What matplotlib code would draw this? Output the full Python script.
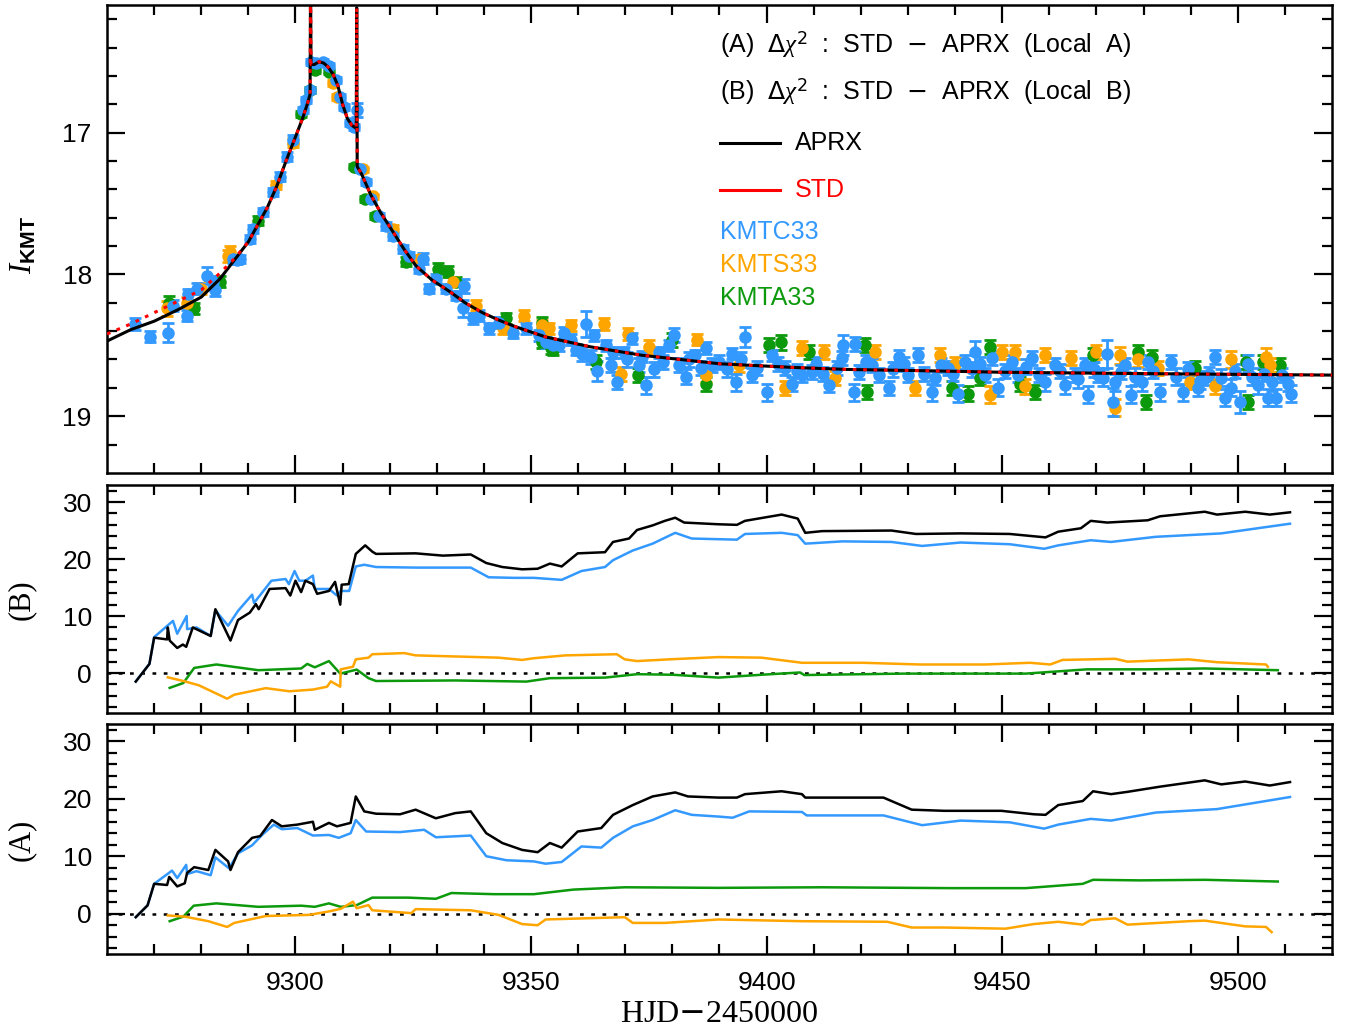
# Light curve of KMT-2021 event with cumulative delta-chi2 panels
import numpy as np
import matplotlib.pyplot as plt

# Colours of the three KMTNet sites
c_ctio = "#3399ff"
c_saao = "#ffa500"
c_sso = "#0c990c"

# ---- Model curves (HJD-2450000, I mag) ----
model_t = [9260, 9265, 9270, 9275, 9280, 9284, 9287, 9290, 9292, 9294, 9296, 9298,
           9300, 9301.5, 9302.5, 9303.1, 9303.2, 9303.3, 9304, 9305, 9306, 9307, 9308,
           9309, 9310, 9311, 9312, 9312.9, 9313.0, 9313.1, 9314, 9316, 9318, 9320.7,
           9323, 9325.6, 9329, 9332.7, 9336, 9339.7, 9343, 9346.8, 9353, 9362.5,
           9373.5, 9390, 9405, 9417, 9435, 9450, 9482, 9520]
aprx_mag = [18.47, 18.39, 18.33, 18.25, 18.16, 18.03, 17.90, 17.77, 17.65, 17.53, 17.38, 17.20,
            17.03, 16.90, 16.80, 16.73, 15.90, 16.52, 16.52, 16.50, 16.51, 16.54, 16.59,
            16.67, 16.80, 16.90, 16.95, 16.97, 16.12, 17.24, 17.29, 17.44, 17.56, 17.70,
            17.82, 17.94, 18.04, 18.12, 18.20, 18.27, 18.32, 18.37, 18.44, 18.51,
            18.57, 18.63, 18.655, 18.67, 18.68, 18.69, 18.70, 18.71]
std_mag = [18.42, 18.35, 18.27, 18.19, 18.11, 17.99, 17.89, 17.77, 17.65, 17.53, 17.38, 17.20,
           17.03, 16.90, 16.80, 16.73, 15.90, 16.52, 16.52, 16.50, 16.51, 16.54, 16.59,
           16.67, 16.80, 16.90, 16.95, 16.97, 16.12, 17.24, 17.29, 17.44, 17.56, 17.70,
           17.82, 17.94, 18.04, 18.12, 18.20, 18.27, 18.32, 18.37, 18.44, 18.51,
           18.57, 18.63, 18.655, 18.67, 18.68, 18.69, 18.70, 18.71]

# ---- Photometry ----
kmtc_t = [9266.0, 9269.2, 9272.9, 9274.1, 9276.9, 9277.2, 9279.1, 9281.2, 9282.4, 9282.9,
          9286.8, 9287.6, 9288.2, 9290.3, 9291.0, 9293.1, 9295.2, 9296.7, 9298.1, 9299.5,
          9301.6, 9302.3, 9303.0, 9303.4, 9304.4, 9305.8, 9307.2, 9308.7, 9309.4, 9310.4,
          9311.5, 9312.5, 9313.0, 9313.6, 9315.0, 9316.1, 9317.8, 9319.3, 9320.7, 9322.8,
          9324.2, 9326.3, 9327.0, 9328.4, 9329.8, 9332.0, 9334.1, 9335.8, 9335.5, 9337.6,
          9339.0, 9341.1, 9343.3, 9346.1, 9348.9, 9351.7, 9353.2, 9354.6,
          9357.0, 9358.4, 9361.6, 9360.9, 9363.4, 9364.1, 9365.9, 9366.9, 9368.3, 9369.7,
          9371.5, 9372.9, 9374.3, 9376.1, 9377.2, 9379.3, 9380.3, 9381.4, 9382.8, 9384.9,
          9387.1, 9388.5, 9392.7, 9393.4, 9395.5, 9396.9, 9400.1, 9401.2, 9404.0, 9405.4,
          9407.5, 9409.6, 9413.2, 9416.3, 9416.0, 9418.5, 9418.8, 9422.4, 9423.8, 9425.9,
          9428.0, 9430.1, 9432.2, 9435.1, 9435.8, 9438.6, 9440.7, 9442.1, 9444.2, 9446.4,
          9447.8, 9449.2, 9452.0, 9453.4, 9456.3, 9459.1, 9461.2, 9463.3, 9465.4, 9467.6,
          9468.3, 9470.4, 9472.2, 9473.6, 9473.9, 9476.0, 9477.4, 9479.6, 9481.0, 9483.4,
          9485.9, 9488.4, 9491.6, 9493.0, 9495.1, 9497.2, 9498.6, 9500.4, 9502.2, 9504.3,
          9506.4, 9508.2, 9510.6, 9511.3,
          9356.0, 9359.5, 9362.8, 9367.5, 9370.4, 9373.6, 9378.0, 9383.5, 9386.0, 9390.0,
          9391.5, 9394.6, 9398.0, 9402.5, 9406.4, 9410.5, 9412.0, 9415.0, 9419.6, 9421.0,
          9426.8, 9429.2, 9433.5, 9437.0, 9439.5, 9443.5, 9445.2, 9450.5, 9455.0, 9457.8,
          9462.2, 9466.0, 9469.5, 9471.5, 9475.2, 9478.3, 9482.0, 9486.8, 9489.5, 9492.0,
          9494.0, 9496.5, 9499.5, 9503.0, 9505.5, 9507.3, 9509.5]
kmtc_mag = [18.35, 18.44, 18.41, 18.22, 18.29, 18.14, 18.10, 18.01, 18.05, 18.11,
            17.89, 17.90, 17.89, 17.75, 17.68, 17.56, 17.42, 17.31, 17.17, 17.05,
            16.84, 16.77, 16.70, 16.50, 16.51, 16.50, 16.53, 16.63, 16.75, 16.82,
            16.93, 16.96, 16.84, 17.26, 17.35, 17.47, 17.59, 17.66, 17.73, 17.82,
            17.87, 17.96, 17.89, 18.10, 18.03, 18.10, 18.15, 18.08, 18.24, 18.31,
            18.29, 18.38, 18.34, 18.41, 18.38, 18.43, 18.48, 18.50,
            18.41, 18.46, 18.35, 18.56, 18.43, 18.68, 18.50, 18.64, 18.76, 18.55,
            18.45, 18.64, 18.78, 18.67, 18.55, 18.50, 18.43, 18.64, 18.72, 18.57,
            18.52, 18.64, 18.56, 18.76, 18.44, 18.71, 18.83, 18.57, 18.66, 18.77,
            18.71, 18.69, 18.78, 18.50, 18.59, 18.83, 18.49, 18.64, 18.71, 18.80,
            18.58, 18.71, 18.57, 18.83, 18.73, 18.66, 18.84, 18.62, 18.55, 18.71,
            18.59, 18.80, 18.62, 18.71, 18.59, 18.76, 18.64, 18.78, 18.71, 18.64,
            18.85, 18.71, 18.56, 18.90, 18.76, 18.64, 18.85, 18.76, 18.62, 18.83,
            18.62, 18.83, 18.80, 18.73, 18.58, 18.87, 18.80, 18.90, 18.63, 18.78,
            18.87, 18.87, 18.77, 18.84,
            18.50, 18.53, 18.58, 18.55, 18.60, 18.58, 18.62, 18.60, 18.66, 18.62,
            18.67, 18.60, 18.66, 18.63, 18.68, 18.63, 18.70, 18.66, 18.69, 18.62,
            18.67, 18.63, 18.70, 18.64, 18.70, 18.67, 18.63, 18.68, 18.65, 18.71,
            18.68, 18.74, 18.67, 18.73, 18.69, 18.72, 18.68, 18.72, 18.67, 18.75,
            18.70, 18.73, 18.68, 18.72, 18.70, 18.76, 18.71]
kmtc_err = [0.04, 0.04, 0.07, 0.04, 0.04, 0.04, 0.04, 0.06, 0.04, 0.04,
            0.03, 0.03, 0.03, 0.03, 0.03, 0.03, 0.03, 0.03, 0.03, 0.03,
            0.02, 0.02, 0.02, 0.02, 0.02, 0.02, 0.02, 0.02, 0.02, 0.02,
            0.02, 0.02, 0.05, 0.02, 0.02, 0.02, 0.02, 0.03, 0.03, 0.03,
            0.03, 0.03, 0.04, 0.03, 0.03, 0.03, 0.03, 0.05, 0.06, 0.04,
            0.04, 0.04, 0.04, 0.04, 0.04, 0.04, 0.04, 0.04,
            0.04, 0.04, 0.09, 0.05, 0.04, 0.07, 0.04, 0.05, 0.05, 0.04,
            0.04, 0.05, 0.06, 0.05, 0.04, 0.04, 0.05, 0.05, 0.05, 0.04,
            0.04, 0.05, 0.04, 0.06, 0.07, 0.05, 0.06, 0.04, 0.05, 0.05,
            0.05, 0.05, 0.05, 0.07, 0.05, 0.06, 0.05, 0.05, 0.05, 0.05,
            0.05, 0.05, 0.05, 0.06, 0.05, 0.05, 0.06, 0.05, 0.08, 0.05,
            0.05, 0.06, 0.05, 0.05, 0.05, 0.06, 0.05, 0.06, 0.05, 0.05,
            0.06, 0.05, 0.10, 0.10, 0.06, 0.05, 0.06, 0.06, 0.05, 0.06,
            0.05, 0.06, 0.06, 0.05, 0.05, 0.06, 0.06, 0.08, 0.06, 0.06,
            0.06, 0.06, 0.05, 0.06,
            0.04, 0.04, 0.05, 0.04, 0.05, 0.04, 0.05, 0.05, 0.05, 0.05,
            0.05, 0.05, 0.05, 0.05, 0.05, 0.05, 0.05, 0.05, 0.05, 0.05,
            0.05, 0.05, 0.05, 0.05, 0.05, 0.05, 0.05, 0.05, 0.05, 0.05,
            0.05, 0.06, 0.05, 0.06, 0.05, 0.06, 0.05, 0.06, 0.05, 0.06,
            0.05, 0.06, 0.05, 0.06, 0.05, 0.06, 0.05]

kmts_t = [9272.8, 9276.9, 9280.0, 9285.7, 9286.0, 9295.9, 9299.5, 9307.9, 9308.9,
          9314.3, 9316.4, 9320.7, 9326.3, 9333.4, 9338.3, 9344.0, 9348.6, 9352.4,
          9353.9, 9358.4, 9365.5, 9369.0, 9370.5, 9375.0, 9385.3, 9387.1, 9394.1,
          9404.0, 9407.5, 9412.1, 9414.6, 9423.1, 9431.5, 9436.8, 9440.0, 9447.4,
          9449.9, 9452.7, 9454.8, 9459.1, 9464.7, 9470.0, 9473.9, 9475.0, 9478.9,
          9483.1, 9489.8, 9495.1, 9498.6, 9506.0, 9506.8]
kmts_mag = [18.24, 18.20, 18.10, 17.87, 17.84, 17.37, 17.07, 16.65, 16.75,
            17.26, 17.45, 17.68, 17.89, 18.05, 18.22, 18.38, 18.29, 18.36,
            18.38, 18.36, 18.35, 18.70, 18.42, 18.51, 18.46, 18.71, 18.64,
            18.80, 18.52, 18.55, 18.73, 18.55, 18.80, 18.57, 18.63, 18.85,
            18.55, 18.55, 18.79, 18.57, 18.59, 18.55, 18.94, 18.57, 18.60,
            18.66, 18.76, 18.79, 18.60, 18.58, 18.64]
kmts_err = [0.05, 0.04, 0.04, 0.04, 0.04, 0.03, 0.03, 0.02, 0.02,
            0.02, 0.02, 0.03, 0.03, 0.03, 0.04, 0.04, 0.04, 0.04,
            0.04, 0.04, 0.04, 0.05, 0.04, 0.05, 0.04, 0.05, 0.05,
            0.05, 0.05, 0.05, 0.05, 0.05, 0.05, 0.05, 0.05, 0.06,
            0.05, 0.05, 0.05, 0.05, 0.05, 0.05, 0.06, 0.06, 0.05,
            0.05, 0.05, 0.05, 0.06, 0.06, 0.05]

kmta_t = [9273.2, 9278.5, 9283.9, 9292.0, 9301.2, 9303.0, 9304.1, 9307.2,
          9312.5, 9314.7, 9316.8, 9323.5, 9330.2, 9332.3, 9334.1, 9344.7, 9352.4, 9354.2,
          9352.4, 9354.6, 9363.8, 9372.6, 9380.0, 9387.1, 9400.5, 9403.0,
          9408.9, 9420.9, 9421.3, 9439.3, 9442.8, 9445.3, 9447.4, 9453.8, 9457.0,
          9469.3, 9478.9, 9481.7, 9480.6, 9490.9, 9501.8, 9502.2, 9505.3, 9508.9]
kmta_mag = [18.20, 18.24, 18.05, 17.62, 16.87, 16.70, 16.56, 16.57,
            17.24, 17.47, 17.59, 17.91, 17.96, 17.98, 18.05, 18.31, 18.34, 18.52,
            18.48, 18.53, 18.62, 18.71, 18.46, 18.77, 18.50, 18.48,
            18.55, 18.50, 18.83, 18.80, 18.84, 18.73, 18.51, 18.77, 18.83,
            18.57, 18.55, 18.58, 18.90, 18.66, 18.62, 18.90, 18.62, 18.64]
kmta_err = [0.05, 0.04, 0.04, 0.03, 0.02, 0.02, 0.02, 0.02,
            0.02, 0.02, 0.02, 0.03, 0.04, 0.04, 0.03, 0.04, 0.04, 0.04,
            0.04, 0.04, 0.05, 0.05, 0.05, 0.05, 0.05, 0.05,
            0.05, 0.05, 0.05, 0.05, 0.05, 0.05, 0.05, 0.05, 0.05,
            0.05, 0.05, 0.05, 0.05, 0.05, 0.05, 0.05, 0.05, 0.05]

# ---- Cumulative delta chi2, local B ----
b_black_t = [9266.1, 9269.0, 9270.0, 9272.75, 9272.9, 9273.3, 9274.9, 9276.1, 9276.8,
             9278.2, 9282.0, 9283.0, 9286.2, 9287.8, 9290.3, 9291.6, 9292.2, 9294.5,
             9297.9, 9298.9, 9300.0, 9301.2, 9302.1, 9303.7, 9304.6, 9307.1, 9308.4,
             9309.5, 9309.8, 9311.3, 9312.8, 9314.8, 9316.3, 9317.1, 9325.5, 9331.3,
             9337.2, 9340.5, 9343.9, 9348.1, 9351.4, 9354.0, 9356.5, 9359.9, 9365.7,
             9367.4, 9370.8, 9372.5, 9375.8, 9378.4, 9380.6, 9382.5, 9389.8, 9393.7,
             9395.4, 9403.2, 9406.6, 9408.2, 9411.8, 9426.5, 9431.7, 9441.2, 9451.6,
             9459.2, 9461.9, 9466.7, 9468.8, 9472.3, 9480.9, 9483.5, 9493.0, 9495.6,
             9501.6, 9506.8, 9511.1]
b_black = [-1.5, 1.6, 6.2, 5.9, 8.0, 5.7, 4.4, 5.0, 4.6,
           8.0, 6.5, 11.2, 5.7, 9.3, 10.6, 12.1, 11.2, 14.75,
           14.9, 13.6, 16.2, 14.2, 16.2, 15.6, 13.9, 14.4, 16.0,
           12.0, 15.5, 15.6, 20.9, 22.4, 21.3, 20.9, 21.0, 20.6,
           20.8, 19.3, 18.6, 18.2, 18.3, 19.2, 18.7, 21.0, 21.2,
           23.0, 23.6, 25.1, 25.9, 26.7, 27.25, 26.4, 26.1, 26.0,
           26.7, 27.8, 27.1, 24.6, 24.9, 25.0, 24.4, 24.5, 24.4,
           23.8, 24.8, 25.4, 26.7, 26.4, 26.8, 27.5, 28.3, 27.8,
           28.3, 27.8, 28.2]
b_blue_t = [9266.1, 9269.0, 9270.0, 9274.0, 9274.9, 9276.9, 9277.0, 9279.0, 9282.0,
            9283.0, 9285.7, 9287.8, 9290.8, 9291.2, 9294.9, 9297.9, 9298.6, 9299.8,
            9300.8, 9302.1, 9303.7, 9304.1, 9307.1, 9308.8, 9309.6, 9311.4, 9312.8,
            9314.6, 9317.1, 9325.5, 9337.2, 9341.0, 9346.4, 9350.6, 9356.5, 9360.7,
            9365.7, 9367.4, 9371.6, 9375.8, 9380.6, 9384.1, 9393.7, 9395.4, 9403.2,
            9406.6, 9408.2, 9416.1, 9426.5, 9433.0, 9441.2, 9451.6, 9458.9, 9461.9,
            9468.8, 9473.1, 9482.6, 9496.5, 9504.2, 9511.1]
b_blue = [-1.46, 1.6, 6.3, 9.15, 6.9, 10.0, 7.7, 8.0, 6.5,
          11.0, 8.3, 10.9, 13.75, 12.3, 16.2, 16.5, 15.6, 17.9,
          16.2, 16.2, 17.1, 14.75, 14.75, 13.6, 14.4, 14.4, 18.7,
          19.0, 18.6, 18.5, 18.5, 16.8, 16.7, 16.7, 16.35, 17.9,
          18.6, 19.8, 21.5, 22.7, 24.6, 23.6, 23.4, 24.4, 24.6,
          24.2, 22.7, 23.1, 23.0, 22.3, 22.9, 22.6, 21.8, 22.4,
          23.3, 23.0, 23.9, 24.5, 25.4, 26.2]
b_orange_t = [9272.9, 9276.5, 9279.5, 9285.5, 9287.0, 9293.7, 9298.7, 9303.7, 9306.7,
              9307.5, 9309.5, 9309.6, 9312.2, 9312.8, 9315.5, 9316.3, 9323.1, 9325.5,
              9343.1, 9348.1, 9350.6, 9357.3, 9368.2, 9369.9, 9372.5, 9379.2, 9389.8,
              9398.9, 9407.5, 9420.5, 9432.6, 9446.4, 9455.9, 9460.2, 9462.8, 9468.8,
              9474.0, 9476.6, 9489.6, 9495.6, 9506.0, 9506.4]
b_orange = [-0.75, -1.46, -2.15, -4.5, -3.8, -2.65, -3.2, -2.9, -2.4,
            -1.46, -2.4, 0.65, 1.1, 2.4, 2.7, 3.3, 3.5, 3.1,
            2.7, 2.3, 2.6, 3.1, 3.3, 2.4, 2.1, 2.4, 2.8,
            2.7, 1.8, 1.8, 1.5, 1.5, 1.8, 1.5, 2.3, 2.4,
            2.5, 2.0, 2.4, 1.9, 1.5, 1.1]
b_green_t = [9273.3, 9276.2, 9278.5, 9283.2, 9292.1, 9301.2, 9302.5, 9304.1, 9307.1,
             9309.5, 9313.0, 9315.5, 9317.1, 9333.9, 9349.0, 9354.0, 9365.7, 9372.5,
             9380.1, 9389.8, 9398.9, 9407.1, 9408.0, 9429.1, 9455.0, 9468.0, 9480.9,
             9493.0, 9508.5]
b_green = [-2.6, -1.75, 0.9, 1.5, 0.5, 0.8, 1.6, 1.0, 2.1,
           -0.1, 0.6, -0.9, -1.4, -1.3, -1.5, -0.9, -0.8, -0.2,
           -0.3, -0.8, -0.3, 0.1, -0.35, -0.1, -0.1, 0.65, 0.65,
           0.8, 0.5]

# ---- Cumulative delta chi2, local A ----
a_black_t = [9266.1, 9268.6, 9270.0, 9272.75, 9273.2, 9274.9, 9276.5, 9277.0, 9278.5,
             9281.5, 9283.0, 9285.7, 9286.2, 9287.8, 9290.8, 9292.5, 9295.0, 9297.1,
             9300.4, 9303.7, 9304.1, 9307.1, 9308.8, 9311.7, 9312.8, 9314.6, 9317.1,
             9322.2, 9325.5, 9329.8, 9333.9, 9337.2, 9340.5, 9343.9, 9348.1, 9351.4,
             9354.0, 9356.5, 9359.9, 9364.9, 9367.4, 9371.6, 9375.8, 9380.6, 9383.3,
             9389.8, 9393.7, 9395.4, 9403.2, 9407.5, 9408.2, 9424.8, 9430.8, 9437.7,
             9449.8, 9456.7, 9459.2, 9461.9, 9467.1, 9469.3, 9473.1, 9476.6, 9483.5,
             9493.0, 9496.5, 9501.6, 9506.8, 9511.1]
a_black = [-0.6, 1.45, 5.2, 5.0, 6.4, 4.75, 5.3, 7.1, 8.1,
           7.6, 11.1, 9.1, 7.6, 10.7, 13.2, 13.5, 16.3, 15.2,
           15.5, 16.0, 14.6, 15.8, 15.2, 15.8, 20.4, 17.8, 17.4,
           17.3, 18.1, 16.6, 17.5, 17.8, 14.0, 12.3, 11.1, 10.7,
           12.3, 11.5, 14.3, 14.9, 17.2, 18.9, 20.4, 21.1, 20.4,
           20.2, 20.2, 20.8, 21.3, 20.8, 20.2, 20.2, 18.1, 17.9,
           17.9, 17.3, 17.2, 18.9, 19.6, 21.3, 20.8, 21.2, 22.1,
           23.2, 22.5, 23.0, 22.3, 22.9]
a_blue_t = [9266.1, 9268.6, 9270.0, 9273.8, 9274.9, 9276.8, 9277.0, 9279.0, 9282.0,
            9283.0, 9285.9, 9287.8, 9290.8, 9292.9, 9295.4, 9297.1, 9300.4, 9303.7,
            9307.1, 9309.2, 9311.7, 9312.8, 9315.0, 9322.2, 9327.3, 9329.8, 9337.2,
            9340.5, 9344.8, 9350.6, 9353.1, 9356.5, 9360.7, 9364.9, 9367.4, 9371.6,
            9375.8, 9380.6, 9384.1, 9389.8, 9392.8, 9396.3, 9407.5, 9408.5, 9424.8,
            9433.0, 9441.2, 9451.6, 9458.9, 9461.9, 9468.8, 9473.1, 9482.6, 9495.6,
            9511.1]
a_blue = [-0.6, 1.45, 5.2, 7.5, 6.2, 8.5, 6.9, 7.4, 6.7,
          9.8, 7.9, 10.5, 11.9, 13.7, 15.5, 14.7, 14.9, 13.6,
          13.7, 13.2, 14.0, 16.3, 14.3, 14.2, 14.6, 13.3, 13.6,
          10.0, 9.3, 9.1, 8.7, 9.0, 11.7, 11.5, 13.2, 15.2,
          16.3, 18.0, 17.2, 16.9, 16.7, 17.8, 17.7, 17.1, 17.1,
          15.4, 16.2, 15.9, 14.8, 15.5, 16.5, 16.2, 17.6, 18.2,
          20.3]
a_orange_t = [9272.9, 9276.5, 9281.5, 9285.5, 9287.0, 9293.7, 9302.9, 9307.1, 9309.6,
              9312.2, 9313.0, 9315.5, 9316.3, 9324.6, 9325.5, 9337.2, 9343.1, 9348.1,
              9351.4, 9353.1, 9369.9, 9371.6, 9378.4, 9389.8, 9407.5, 9425.6, 9430.8,
              9437.7, 9450.7, 9456.7, 9461.9, 9467.1, 9468.8, 9474.0, 9476.6, 9489.6,
              9493.0, 9501.6, 9506.0, 9507.2]
a_orange = [-0.3, -0.5, -1.3, -2.3, -1.6, -0.4, -0.2, 0.4, 0.85,
            2.1, 0.95, 1.5, 0.6, 0.1, 0.8, 0.6, -0.2, -1.8,
            -2.0, -1.0, -0.6, -1.6, -1.6, -1.0, -1.3, -1.4, -2.4,
            -2.4, -2.6, -1.8, -1.4, -1.9, -1.1, -0.8, -1.9, -1.3,
            -1.2, -2.2, -2.3, -3.2]
a_green_t = [9273.3, 9276.2, 9278.4, 9283.2, 9292.1, 9301.2, 9304.1, 9307.1, 9309.6,
             9313.0, 9316.3, 9323.9, 9329.8, 9333.1, 9342.2, 9350.6, 9359.0, 9369.9,
             9389.8, 9411.8, 9439.5, 9455.0, 9467.1, 9469.3, 9479.2, 9493.0, 9508.5]
a_green = [-1.3, -0.5, 1.4, 1.8, 1.2, 1.4, 1.2, 1.8, 1.2,
           1.5, 2.8, 2.8, 2.6, 3.6, 3.4, 3.4, 4.2, 4.6,
           4.5, 4.6, 4.45, 4.45, 5.2, 5.9, 5.8, 5.9, 5.6]

# Figure and panels
plt.rcParams["font.family"] = "Liberation Sans"
plt.rcParams["mathtext.fontset"] = "custom"
plt.rcParams["mathtext.it"] = "Liberation Serif:italic"
plt.rcParams["mathtext.bf"] = "Liberation Sans:bold"
fig = plt.figure(figsize = (13.48, 10.34), dpi = 100)
ax1 = fig.add_axes([0.0794, 0.5426, 0.9087, 0.4526])
ax2 = fig.add_axes([0.0794, 0.3105, 0.9087, 0.2205])
ax3 = fig.add_axes([0.0794, 0.0774, 0.9087, 0.2224])

# Top panel: data and models
for t, m, e, c in [(kmta_t, kmta_mag, kmta_err, c_sso),
                   (kmts_t, kmts_mag, kmts_err, c_saao),
                   (kmtc_t, kmtc_mag, kmtc_err, c_ctio)]:
    ax1.errorbar(t, m, yerr = e, fmt = "o", color = c, ms = 8, elinewidth = 2,
                 capsize = 4.5, capthick = 2, zorder = 2)
ax1.plot(model_t, aprx_mag, color = "black", lw = 2.2, zorder = 3)
ax1.plot(model_t, std_mag, color = "red", lw = 2.2, ls = (0, (1.2, 2.2)), zorder = 4)

ax1.set_ylim(19.4, 16.1)
ax1.set_yticks([17, 18, 19])
ax1.set_yticks(np.arange(16.2, 19.4, 0.2), minor = True)
ax1.set_ylabel(r"$I_{\mathbf{KMT}}$", fontsize = 22)
ax1.yaxis.set_label_coords(-0.056, 0.487)

# Legend text
tx = 0.5004
fs = 18
ax1.text(tx, 0.9145, r"(A)  $\Delta\chi^2$  :  STD  $-$  APRX  (Local  A)", transform = ax1.transAxes,
         fontsize = fs, va = "center")
ax1.text(tx, 0.814, r"(B)  $\Delta\chi^2$  :  STD  $-$  APRX  (Local  B)", transform = ax1.transAxes,
         fontsize = fs, va = "center")
ax1.plot([0.5004, 0.549], [0.705, 0.705], color = "black", lw = 2.2, transform = ax1.transAxes)
ax1.text(0.5616, 0.705, "APRX", transform = ax1.transAxes, fontsize = fs, va = "center")
ax1.plot([0.5004, 0.549], [0.605, 0.605], color = "red", lw = 2.2, transform = ax1.transAxes)
ax1.text(0.5616, 0.605, "STD", color = "red", transform = ax1.transAxes, fontsize = fs, va = "center")
ax1.text(tx, 0.515, "KMTC33", color = c_ctio, transform = ax1.transAxes, fontsize = fs, va = "center")
ax1.text(tx, 0.444, "KMTS33", color = c_saao, transform = ax1.transAxes, fontsize = fs, va = "center")
ax1.text(tx, 0.374, "KMTA33", color = c_sso, transform = ax1.transAxes, fontsize = fs, va = "center")

# Delta chi2 panels
ax2.plot(b_green_t, b_green, color = c_sso, lw = 1.8)
ax2.plot(b_orange_t, b_orange, color = c_saao, lw = 1.8)
ax2.plot(b_blue_t, b_blue, color = c_ctio, lw = 1.8)
ax2.plot(b_black_t, b_black, color = "black", lw = 1.8)
ax2.set_ylabel("(B)", fontsize = 22, family = "Liberation Serif")
ax2.yaxis.set_label_coords(-0.058, 0.496)

ax3.plot(a_green_t, a_green, color = c_sso, lw = 1.8)
ax3.plot(a_orange_t, a_orange, color = c_saao, lw = 1.8)
ax3.plot(a_blue_t, a_blue, color = c_ctio, lw = 1.8)
ax3.plot(a_black_t, a_black, color = "black", lw = 1.8)
ax3.set_ylabel("(A)", fontsize = 22, family = "Liberation Serif")
ax3.yaxis.set_label_coords(-0.058, 0.496)
ax3.set_xlabel("HJD$-$2450000", fontsize = 23, family = "Liberation Serif")
ax3.xaxis.set_label_coords(0.5, -0.2)

for ax in (ax2, ax3):
    ax.axhline(0, color = "black", lw = 1.8, ls = (0, (1.5, 3)), zorder = 0)
    ax.set_ylim(-7, 33)
    ax.set_yticks([0, 10, 20, 30])
    ax.set_yticks(np.arange(-6, 33, 2), minor = True)

# Common axis styling
for ax in (ax1, ax2, ax3):
    ax.set_xlim(9260, 9520)
    ax.set_xticks([9300, 9350, 9400, 9450, 9500])
    ax.set_xticks(np.arange(9270, 9520, 10), minor = True)
    ax.tick_params(which = "both", direction = "in", top = True, right = True, width = 1.6)
    ax.tick_params(which = "major", length = 13, labelsize = 19, pad = 11)
    ax.tick_params(which = "minor", length = 7)
    for s in ax.spines.values():
        s.set_linewidth(1.8)
ax1.tick_params(labelbottom = False)
ax2.tick_params(labelbottom = False)
ax3.tick_params(axis = "x", pad = 12)

plt.savefig("out.png", dpi = 100)
